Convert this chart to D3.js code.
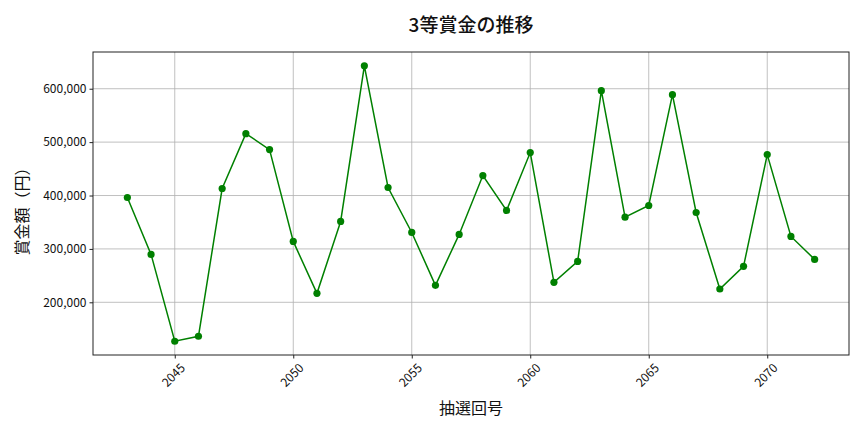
<!DOCTYPE html>
<html lang="ja">
<head>
    <meta charset="UTF-8">
    <title>3等賞金の推移</title>
    <script src="https://d3js.org/d3.v7.min.js"></script>
    <style>
        body {
            margin: 0;
            background: #fff;
            font-family: 'Noto Sans CJK JP', 'Noto Sans', sans-serif;
        }
        svg { display: block; }
        .grid line { stroke: #b0b0b0; stroke-width: 0.8; }
        .axis path, .axis line { stroke: #222; }
        .axis text { font-size: 12px; fill: #111; font-family: 'Noto Sans CJK JP', sans-serif; }
    </style>
</head>
<body>
<svg width="864" height="432"></svg>
<script>
    const draws = d3.range(2043, 2073);
    const prizes = [
        396300, 289700, 127100, 136400, 413100, 515900, 486000, 314000, 216800, 351400,
        643000, 415000, 330800, 231800, 327100, 437400, 372000, 480400, 237400, 276600,
        596300, 359400, 381300, 588800, 368200, 224900, 267300, 476600, 323400, 280400
    ];
    const xTicks = [2045, 2050, 2055, 2060, 2065, 2070];
    const yTicks = [200000, 300000, 400000, 500000, 600000];

    const data = draws.map((d, i) => ({ draw: d, prize: prizes[i] }));

    const svg = d3.select('svg');
    const margin = { top: 52, right: 15, bottom: 77, left: 93 };
    const width = 864, height = 432;

    const xPad = (d3.max(draws) - d3.min(draws)) * 0.05;
    const x = d3.scaleLinear()
        .domain([d3.min(draws) - xPad, d3.max(draws) + xPad])
        .range([margin.left, width - margin.right]);

    const yMin = d3.min(prizes), yMax = d3.max(prizes);
    const yPad = (yMax - yMin) * 0.05;
    const y = d3.scaleLinear()
        .domain([yMin - yPad, yMax + yPad])
        .range([height - margin.bottom, margin.top]);

    // grid
    const grid = svg.append('g').attr('class', 'grid');
    grid.selectAll('.gx').data(xTicks).enter().append('line')
        .attr('x1', d => x(d)).attr('x2', d => x(d))
        .attr('y1', margin.top).attr('y2', height - margin.bottom);
    grid.selectAll('.gy').data(yTicks).enter().append('line')
        .attr('x1', margin.left).attr('x2', width - margin.right)
        .attr('y1', d => y(d)).attr('y2', d => y(d));

    // line + points
    const line = d3.line().x(d => x(d.draw)).y(d => y(d.prize));
    svg.append('path')
        .datum(data)
        .attr('fill', 'none')
        .attr('stroke', 'green')
        .attr('stroke-width', 1.5)
        .attr('d', line);

    svg.append('g').selectAll('circle')
        .data(data)
        .enter().append('circle')
        .attr('cx', d => x(d.draw))
        .attr('cy', d => y(d.prize))
        .attr('r', 3.6)
        .attr('fill', 'green');

    // frame
    svg.append('rect')
        .attr('x', margin.left).attr('y', margin.top)
        .attr('width', width - margin.left - margin.right)
        .attr('height', height - margin.top - margin.bottom)
        .attr('fill', 'none').attr('stroke', '#222').attr('stroke-width', 1);

    // X axis
    const xAxis = svg.append('g')
        .attr('class', 'axis')
        .attr('transform', `translate(0,${height - margin.bottom})`)
        .call(d3.axisBottom(x).tickValues(xTicks).tickFormat(d3.format('d')).tickSize(3.5).tickPadding(3));
    xAxis.select('.domain').remove();
    xAxis.selectAll('text')
        .attr('text-anchor', 'middle')
        .attr('dy', null)
        .attr('y', 0)
        .attr('transform', 'translate(-1,21) rotate(-45)')
        .attr('dominant-baseline', 'middle');

    // Y axis
    const yAxis = svg.append('g')
        .attr('class', 'axis')
        .attr('transform', `translate(${margin.left},0)`)
        .call(d3.axisLeft(y).tickValues(yTicks).tickFormat(d3.format(',')).tickSize(3.5).tickPadding(3));
    yAxis.select('.domain').remove();

    // title
    svg.append('text')
        .attr('x', (margin.left + width - margin.right) / 2)
        .attr('y', 32)
        .attr('text-anchor', 'middle')
        .attr('font-size', '19px')
        .attr('font-weight', 500)
        .attr('fill', '#111')
        .text('3等賞金の推移');

    // axis labels
    svg.append('text')
        .attr('x', (margin.left + width - margin.right) / 2)
        .attr('y', 414)
        .attr('text-anchor', 'middle')
        .attr('font-size', '16px')
        .attr('fill', '#111')
        .text('抽選回号');

    svg.append('text')
        .attr('transform', `translate(28,${(margin.top + height - margin.bottom) / 2 + 4}) rotate(-90)`)
        .attr('text-anchor', 'middle')
        .attr('font-size', '16px')
        .attr('fill', '#111')
        .text('賞金額（円）');
</script>
</body>
</html>
